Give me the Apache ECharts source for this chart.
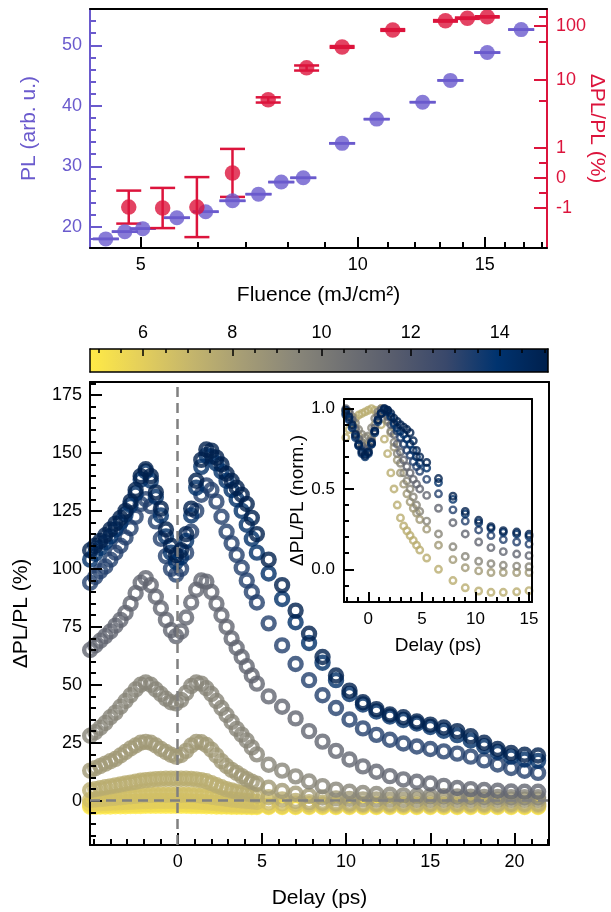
<!DOCTYPE html>
<html>
<head>
<meta charset="utf-8">
<title>PL vs fluence and delay traces</title>
<script src="https://cdn.jsdelivr.net/npm/echarts@6.0.0/dist/echarts.min.js"></script>
<style>
html, body { margin:0; padding:0; background:#ffffff; }
#chart { width:611px; height:912px; }
</style>
</head>
<body>
<div id="chart"></div>
<script>
// ===================== DATA =====================
// Top panel: PL vs fluence (left axis)
const plFluence = [4.47, 4.75, 5.03, 5.61, 6.15, 6.70, 7.28, 7.83, 8.40, 9.51, 10.62, 12.30, 13.44, 15.12, 16.85];
const plValues  = [18.0, 19.2, 19.7, 21.5, 22.5, 24.3, 25.4, 27.4, 28.1, 33.8, 37.8, 40.6, 44.2, 48.8, 52.6];
const plErr     = [0.02, 0.02, 0.02, 0.02, 0.02, 0.02, 0.02, 0.02, 0.02, 0.02, 0.02, 0.02, 0.02, 0.02, 0.02];
// Top panel: ΔPL/PL vs fluence (right axis)
const dplFluence = [4.81, 5.36, 5.98, 6.70, 7.51, 8.49, 9.51, 11.18, 13.23, 14.19, 15.12];
const dplValues  = [-0.97, -1.0, -0.97, 0.17, 5.1, 16.7, 40.8, 84, 124, 139, 147];
const dplErr     = [0.55, 0.67, 1.0, 0.8, 0.45, 1.8, 1.5, 3, 4, 4, 4];

// Tick labels
const fluenceTickLabels = [5, 10, 15];
const fluenceMinorTicks = [5, 6, 7, 8, 9, 10, 11, 12, 13, 14, 15, 16, 17, 18];
const plTickLabels = [20, 30, 40, 50];
const plMinorTicks = [18, 20, 22, 24, 26, 28, 30, 32, 34, 36, 38, 40, 42, 44, 46, 48, 50, 52, 54];
const dplTickLabels = [-1, 0, 1, 10, 100];
const dplMinorTicks = [-0.5, 0.5, 5, 50, 150];
const colorbarTickLabels = [6, 8, 10, 12, 14];
const colorbarMinorTicks = [5, 5.5, 6, 6.5, 7, 7.5, 8, 8.5, 9, 9.5, 10, 10.5, 11, 11.5, 12, 12.5, 13, 13.5, 14, 14.5, 15];
const delayTickLabels = [0, 5, 10, 15, 20];
const delayMinorTicks = [-5,-4,-3,-2,-1,0,1,2,3,4,5,6,7,8,9,10,11,12,13,14,15,16,17,18,19,20,21,22];
const mainYTickLabels = [0, 25, 50, 75, 100, 125, 150, 175];
const mainYMinorTicks = [-15,-10,-5,0,5,10,15,20,25,30,35,40,45,50,55,60,65,70,75,80,85,90,95,100,105,110,115,120,125,130,135,140,145,150,155,160,165,170,175,180];
const insetXTickLabels = [0, 5, 10, 15];
const insetXMinorTicks = [-2,-1,0,1,2,3,4,5,6,7,8,9,10,11,12,13,14,15];
const insetYTickLabels = [0, 0.5, 1.0];
const insetYMinorTicks = [-0.2,-0.1,0,0.1,0.2,0.3,0.4,0.5,0.6,0.7,0.8,0.9,1.0];

// Main panel: ΔPL/PL (%) vs delay (ps), one trace per fluence
const delays = [-5.2,-4.9,-4.6,-4.3,-4.0,-3.7,-3.4,-3.1,-2.8,-2.5,-2.2,-1.9,-1.6,-1.3,-1.0,-0.7,-0.4,-0.1,0.2,0.5,0.8,1.1,1.4,1.7,2.0,2.3,2.6,2.9,3.2,3.5,3.8,4.1,4.4,4.7,5.4,6.2,7.0,7.8,8.6,9.4,10.2,11.0,11.8,12.6,13.4,14.2,15.0,15.8,16.6,17.4,18.2,19.0,19.8,20.6,21.4];
const trace1512 = [108,110,112,114.5,117, 119.5,122,125,129,134, 140,143,140,133,126, 117,110,106,108,115, 126,138,147,151.5,151, 148,145,141,138,135, 132,128,122,115, 104,93,82,72,62, 54,47.5,42.5,39.5,37.2, 36,34.2,32.8,31.6,30, 27.8,25,22.3,20.6,19.8, 19.5];
const trace1419 = [104,106.5,109,111.5,114, 117,120,123.5,127.5,132.5, 138.5,142,138,131,123, 114,107,103,105,112, 123,135,144,149,148.5, 145.5,142,138,134,130, 125,119,113,107, 98,87,77,68,59.5, 52,46,41.5,38.5,36.3, 34.8,33.3,31.8,30.2,28.3, 26,23.5,21,19,17.8, 17.2];
const trace1323 = [94,96.5,99,101,104, 107,110,113.5,117.5,122.5, 128,130,127,120.5,113, 105.5,100,97.5,100,107, 116,125,132,136,134, 129,122.5,116,111,106, 100.5,95,90,85.5, 76.5,67,59,52,45.5, 40,35,31.2,28.4,26.3, 24.7,23.4,22.3,21.3,20.3, 19,17.4,15.6,14.1,12.9, 12];
const trace1118 = [65,67,69,71,73, 75.5,78,81,85,89.5, 94,96,93,88,83, 78,73.5,71,73,79, 85.5,91,95,94.5,90, 85,80,75,70,66, 62,58,54,50.5, 45,40.5,35.5,30,25.5, 21.5,17.8,14.8,12.5,10.6, 9.2,8.2,7.4,6.4,5.5, 5,4.6,4.3,4,3.9, 3.9];
const trace951 = [28,29.5,31.5,33.5,36, 38,40.5,43,45.5,48, 50,51,50,48,46, 44,42.5,42,43.5,46.5, 49.5,51,50.5,48.5,46, 43,40,37,34,31, 28.5,26,23,20, 15.5,13,10.5,8.3,6.3, 4.8,3.9,3.3,2.9,2.6, 2.3,2.1,2,1.9,1.8, 1.7,1.6,1.6,1.5,1.5, 1.5];
const trace849 = [13,14,15,16,17, 18,19.5,21,22.5,23.8, 25,25.4,25,23.8,22.3, 21,19.8,19,19.7,21.5, 23.8,25.3,25.2,24,22, 19.5,17,15,13.3,12, 10.6,9.3,8.2,7.3, 5.6,4.2,3,2.1,1.4, 1,0.8,0.6,0.5,0.5, 0.4,0.4,0.4,0.4,0.4, 0.4,0.4,0.4,0.4,0.4, 0.4];
const trace751 = [4.5,5,5.4,5.8,6.2, 6.6,7,7.4,7.8,8.2, 8.6,8.9,9.1,9.3,9.4, 9.5,9.5,9.5,9.5,9.5, 9.4,9.2,8.9,8.4,7.6, 6.7,5.8,5,4.4,3.9, 3.5,3.1,2.7,2.3, 1.5,0.6,-0.1,-0.6,-0.9, -1.1,-1.2,-1.3,-1.3,-1.3, -1.3,-1.3,-1.3,-1.3,-1.3, -1.3,-1.3,-1.3,-1.3,-1.3, -1.3];
const trace670 = [0.3,0.5,0.7,0.9,1.1, 1.3,1.5,1.7,1.9,2.1, 2.3,2.4,2.5,2.6,2.6, 2.6,2.6,2.6,2.6,2.6, 2.5,2.4,2.2,2,1.7, 1.4,1.1,0.8,0.5,0.3, 0.1,-0.1,-0.3,-0.5, -0.8,-1.1,-1.3,-1.5,-1.6, -1.7,-1.8,-1.8,-1.8,-1.8, -1.8,-1.8,-1.8,-1.8,-1.8, -1.8,-1.8,-1.8,-1.8,-1.8, -1.8];
const trace598 = [-1.3,-1.2,-1.1,-1,-0.9, -0.8,-0.7,-0.6,-0.5,-0.4, -0.3,-0.2,-0.2,-0.1,-0.1, -0.1,-0.1,-0.1,-0.1,-0.2, -0.3,-0.4,-0.5,-0.7,-0.9, -1.1,-1.3,-1.5,-1.6,-1.7, -1.8,-1.9,-2,-2, -2.1,-2.2,-2.2,-2.2,-2.2, -2.2,-2.2,-2.2,-2.2,-2.2, -2.2,-2.2,-2.2,-2.2,-2.2, -2.2,-2.2,-2.2,-2.2,-2.2, -2.2];
const trace536 = [-2,-2,-1.9,-1.9,-1.8, -1.8,-1.7,-1.7,-1.6,-1.6, -1.5,-1.5,-1.5,-1.4,-1.4, -1.4,-1.4,-1.4,-1.4,-1.5, -1.5,-1.6,-1.7,-1.8,-1.9, -2,-2.1,-2.2,-2.2,-2.3, -2.3,-2.4,-2.4,-2.4, -2.5,-2.5,-2.5,-2.5,-2.5, -2.5,-2.5,-2.5,-2.5,-2.5, -2.5,-2.5,-2.5,-2.5,-2.5, -2.5,-2.5,-2.5,-2.5,-2.5, -2.5];
const trace481 = [-2.6,-2.6,-2.5,-2.5,-2.5, -2.4,-2.4,-2.4,-2.3,-2.3, -2.3,-2.2,-2.2,-2.2,-2.2, -2.2,-2.2,-2.2,-2.2,-2.2, -2.3,-2.3,-2.3,-2.4,-2.4, -2.5,-2.5,-2.5,-2.6,-2.6, -2.6,-2.6,-2.7,-2.7, -2.7,-2.7,-2.7,-2.7,-2.7, -2.7,-2.7,-2.7,-2.7,-2.7, -2.7,-2.7,-2.7,-2.7,-2.7, -2.7,-2.7,-2.7,-2.7,-2.7, -2.7];

// Inset: normalised ΔPL/PL vs delay
const insetDelays = [-2.1,-1.8,-1.5,-1.2,-0.9,-0.6,-0.3,0,0.3,0.6,0.9,1.2,1.5,1.8,2.1,2.4,2.7,3.0,3.3,3.6,3.9,4.2,4.5,4.8,5.45,6.55,7.9,9.05,10.3,11.45,12.6,13.85,15.0];
const norm1512 = [0.99,0.95,0.9,0.84,0.78, 0.73,0.71,0.73,0.79,0.86, 0.93,0.97,1.0,0.99,0.97, 0.94,0.92,0.9,0.885,0.87, 0.85,0.8,0.74,0.7, 0.665,0.565,0.455,0.36,0.305, 0.265,0.24,0.232,0.218];
const norm1419 = [0.97,0.93,0.88,0.82,0.77, 0.72,0.7,0.72,0.78,0.85, 0.92,0.97,0.99,0.98,0.95, 0.91,0.88,0.86,0.84,0.81, 0.78,0.74,0.7,0.66, 0.63,0.54,0.435,0.345,0.29, 0.255,0.23,0.22,0.205];
const norm1323 = [0.96,0.94,0.89,0.83,0.77, 0.74,0.72,0.73,0.78,0.86, 0.93,0.97,1.0,0.99,0.95, 0.9,0.86,0.82,0.78,0.74, 0.71,0.67,0.64,0.61, 0.56,0.47,0.37,0.3,0.245, 0.21,0.185,0.17,0.157];
const norm1118 = [1.0,0.98,0.93,0.87,0.81, 0.77,0.75,0.75,0.8,0.88, 0.95,0.99,0.99,0.95,0.9, 0.84,0.78,0.73,0.68,0.64, 0.6,0.56,0.53,0.5, 0.46,0.38,0.29,0.22,0.17, 0.135,0.11,0.095,0.085];
const norm951 = [0.99,0.98,0.95,0.91,0.87, 0.84,0.82,0.83,0.88,0.94, 0.98,1.0,0.97,0.92,0.86, 0.79,0.72,0.66,0.6,0.55, 0.5,0.45,0.4,0.36, 0.3,0.22,0.14,0.08,0.05, 0.035,0.025,0.02,0.016];
const norm849 = [0.98,0.97,0.93,0.88,0.83, 0.79,0.77,0.77,0.82,0.9, 0.96,1.0,0.98,0.93,0.85, 0.76,0.68,0.6,0.53,0.47, 0.42,0.38,0.35,0.31, 0.25,0.15,0.06,0.01,-0.01, -0.02,-0.02,-0.02,-0.02];
const norm751 = [0.82,0.87,0.91,0.94,0.96, 0.97,0.98,0.99,1.0,0.99, 0.96,0.9,0.81,0.72,0.6, 0.5,0.4,0.32,0.27,0.24, 0.21,0.18,0.15,0.12, 0.07,0.0,-0.07,-0.115,-0.135, -0.143,-0.143,-0.14,-0.133];

// draw order: low fluence first (high fluence on top)
const mainTraces = [[4.81, trace481], [5.36, trace536], [5.98, trace598], [6.70, trace670], [7.51, trace751], [8.49, trace849], [9.51, trace951], [11.18, trace1118], [13.23, trace1323], [14.19, trace1419], [15.12, trace1512]];
const insetTraces = [[7.51, norm751], [8.49, norm849], [9.51, norm951], [11.18, norm1118], [13.23, norm1323], [14.19, norm1419], [15.12, norm1512]];

// ===================== STYLE / SCALES =====================
const FONT = 'Liberation Sans';
const BLACK = '#000000';
const PURPLE = '#6A5ACD';
const RED = '#DC143C';
const CB_MIN = 4.81, CB_MAX = 15.08;
const CIVIDIS = ['#00204D','#00336F','#39486B','#575C6D','#707173','#8A8779','#A69D75','#C4B56C','#E4CF5B','#FFEA46'];

function hexToRgb(h) { return [parseInt(h.slice(1,3),16), parseInt(h.slice(3,5),16), parseInt(h.slice(5,7),16)]; }
function fluenceColor(f) {
  let p = (CB_MAX - f) / (CB_MAX - CB_MIN) * (CIVIDIS.length - 1);
  p = Math.max(0, Math.min(CIVIDIS.length - 1, p));
  const i = Math.min(Math.floor(p), CIVIDIS.length - 2);
  const t = p - i;
  const a = hexToRgb(CIVIDIS[i]), b = hexToRgb(CIVIDIS[i + 1]);
  return 'rgb(' + a.map((v, k) => Math.round(v + (b[k] - v) * t)).join(',') + ')';
}
// right axis of the top panel: linear between -1 and 1, logarithmic above
function dplAxisPos(v) {
  if (v <= 1) return v;
  const L = Math.log10(v);
  if (v <= 10) return 1 + 2.27 * L;
  return 3.27 + 1.8 * (L - 1);
}
function dplAxisLabel(pos) {
  let best = dplTickLabels[0], bd = Infinity;
  dplTickLabels.forEach(v => { const d = Math.abs(dplAxisPos(v) - pos); if (d < bd) { bd = d; best = v; } });
  return String(best);
}

function ax(o) {
  return Object.assign({
    type: 'value', silent: true, z: 5,
    splitLine: { show: false },
    axisLine: { show: false, onZero: false },
    axisTick: { show: false },
    axisLabel: { show: false }
  }, o);
}
function lineStyle(color, width) { return { show: true, onZero: false, lineStyle: { color: color, width: width } }; }
function ticks(values, len, color, width) { return { show: true, inside: true, length: len, customValues: values, lineStyle: { color: color, width: width || 2 } }; }
function labels(values, color, size, margin, fmt) {
  const o = { show: true, customValues: values, color: color, fontSize: size, fontFamily: FONT, margin: margin };
  if (fmt) o.formatter = fmt;
  return o;
}
function nameStyle(color, size) { return { color: color, fontSize: size, fontFamily: FONT }; }

function errorBarSeries(xIdx, yIdx, data, color, capHalf) {
  return {
    type: 'custom', xAxisIndex: xIdx, yAxisIndex: yIdx, silent: true, z: 2,
    encode: { x: 0, y: [1, 2] },
    data: data,
    renderItem: function (params, api) {
      const lo = api.coord([api.value(0), api.value(1)]);
      const hi = api.coord([api.value(0), api.value(2)]);
      const st = { stroke: color, lineWidth: 2.5 };
      return { type: 'group', children: [
        { type: 'line', shape: { x1: lo[0], y1: lo[1], x2: hi[0], y2: hi[1] }, style: st },
        { type: 'line', shape: { x1: lo[0] - capHalf, y1: lo[1], x2: lo[0] + capHalf, y2: lo[1] }, style: st },
        { type: 'line', shape: { x1: hi[0] - capHalf, y1: hi[1], x2: hi[0] + capHalf, y2: hi[1] }, style: st }
      ]};
    }
  };
}

// ===================== SERIES =====================
const series = [];
// top panel
series.push(errorBarSeries(0, 0, plFluence.map((f, i) => [f, plValues[i] - plErr[i], plValues[i] + plErr[i]]), PURPLE, 13));
series.push({ type: 'scatter', xAxisIndex: 0, yAxisIndex: 0, symbol: 'circle', symbolSize: 15, silent: true, z: 3,
  itemStyle: { color: PURPLE }, data: plFluence.map((f, i) => [f, plValues[i]]) });
series.push(errorBarSeries(0, 2, dplFluence.map((f, i) => [f, dplAxisPos(dplValues[i] - dplErr[i]), dplAxisPos(dplValues[i] + dplErr[i])]), RED, 12.5));
series.push({ type: 'scatter', xAxisIndex: 0, yAxisIndex: 2, symbol: 'circle', symbolSize: 15.5, silent: true, z: 4,
  itemStyle: { color: RED }, data: dplFluence.map((f, i) => [f, dplAxisPos(dplValues[i])]) });

// colorbar
const cbStops = CIVIDIS.map((c, i) => ({ offset: i / (CIVIDIS.length - 1), color: CIVIDIS[CIVIDIS.length - 1 - i] }));
series.push({ type: 'custom', xAxisIndex: 3, yAxisIndex: 4, silent: true, z: 1,
  data: [[CB_MIN, CB_MAX]], encode: { x: [0, 1] },
  renderItem: function (params, api) {
    const a = api.coord([api.value(0), 0]);
    const b = api.coord([api.value(1), 1]);
    return { type: 'rect', shape: { x: a[0], y: b[1], width: b[0] - a[0], height: a[1] - b[1] },
      style: { fill: { type: 'linear', x: 0, y: 0, x2: 1, y2: 0, colorStops: cbStops } } };
  }
});

// main traces
mainTraces.forEach(([f, vals], k) => {
  const s = { type: 'scatter', xAxisIndex: 6, yAxisIndex: 6, symbol: 'circle', symbolSize: 12, silent: true, z: 2,
    itemStyle: { color: 'rgba(0,0,0,0)', borderColor: fluenceColor(f), borderWidth: 4.4 },
    data: delays.map((d, i) => [d, vals[i]]) };
  if (k === mainTraces.length - 1) {
    s.markLine = { silent: true, symbol: ['none', 'none'], label: { show: false }, z: 10,
      lineStyle: { type: [10, 6], color: '#808080', width: 2.5 },
      data: [{ xAxis: 0 }, { yAxis: 0 }] };
  }
  series.push(s);
});
// inset traces
insetTraces.forEach(([f, vals]) => {
  series.push({ type: 'scatter', xAxisIndex: 9, yAxisIndex: 9, symbol: 'circle', symbolSize: 6.5, silent: true, z: 2,
    itemStyle: { color: 'rgba(0,0,0,0)', borderColor: fluenceColor(f), borderWidth: 2.4 },
    data: insetDelays.map((d, i) => [d, vals[i]]) });
});

// ===================== OPTION =====================
const option = {
  animation: false,
  backgroundColor: '#ffffff',
  grid: [
    { left: 90, top: 9, width: 457, height: 239, outerBoundsMode: 'none' },
    { left: 90, top: 349, width: 458, height: 23, outerBoundsMode: 'none' },
    { left: 90, top: 382, width: 459, height: 463, outerBoundsMode: 'none' },
    { left: 344, top: 399, width: 188, height: 203, outerBoundsMode: 'none' }
  ],
  graphic: [
    { type: 'text', x: 597, y: 128.5, rotation: -Math.PI / 2, silent: true, z: 20,
      style: { text: 'ΔPL/PL (%)', fill: RED, font: '21px "Liberation Sans"', align: 'center', verticalAlign: 'middle' } }
  ],
  xAxis: [
    ax({ type: 'log', logBase: 10, gridIndex: 0, position: 'bottom', min: 4.25, max: 18.3,
      axisLine: lineStyle(BLACK, 2), axisTick: ticks(fluenceTickLabels, 11, BLACK),
      axisLabel: labels(fluenceTickLabels, BLACK, 18, 8, v => String(v)),
      name: 'Fluence (mJ/cm²)', nameLocation: 'middle', nameGap: 37, nameTextStyle: nameStyle(BLACK, 21) }),
    ax({ type: 'log', logBase: 10, gridIndex: 0, position: 'bottom', min: 4.25, max: 18.3,
      axisTick: ticks(fluenceMinorTicks, 6, BLACK) }),
    ax({ type: 'log', logBase: 10, gridIndex: 0, position: 'top', min: 4.25, max: 18.3,
      axisLine: lineStyle(BLACK, 2) }),
    ax({ gridIndex: 1, position: 'top', min: CB_MIN, max: CB_MAX,
      axisLine: lineStyle(BLACK, 1.5), axisTick: ticks(colorbarTickLabels, 7, BLACK, 1.5),
      axisLabel: labels(colorbarTickLabels, BLACK, 18, 7, v => String(v)) }),
    ax({ gridIndex: 1, position: 'top', min: CB_MIN, max: CB_MAX,
      axisTick: ticks(colorbarMinorTicks, 4, BLACK, 1.5) }),
    ax({ gridIndex: 1, position: 'bottom', min: CB_MIN, max: CB_MAX, axisLine: lineStyle(BLACK, 1.5) }),
    ax({ gridIndex: 2, position: 'bottom', min: -5.21, max: 22.05,
      axisLine: lineStyle(BLACK, 2), axisTick: ticks(delayTickLabels, 12, BLACK),
      axisLabel: labels(delayTickLabels, BLACK, 18, 8, v => String(v)),
      name: 'Delay (ps)', nameLocation: 'middle', nameGap: 43, nameTextStyle: nameStyle(BLACK, 21) }),
    ax({ gridIndex: 2, position: 'bottom', min: -5.21, max: 22.05, axisTick: ticks(delayMinorTicks, 6, BLACK) }),
    ax({ gridIndex: 2, position: 'top', min: -5.21, max: 22.05, axisLine: lineStyle(BLACK, 2) }),
    ax({ gridIndex: 3, position: 'bottom', min: -2.27, max: 15.28,
      axisLine: lineStyle(BLACK, 2), axisTick: ticks(insetXTickLabels, 10, BLACK),
      axisLabel: labels(insetXTickLabels, BLACK, 17, 9, v => String(v)),
      name: 'Delay (ps)', nameLocation: 'middle', nameGap: 34, nameTextStyle: nameStyle(BLACK, 19) }),
    ax({ gridIndex: 3, position: 'bottom', min: -2.27, max: 15.28, axisTick: ticks(insetXMinorTicks, 5, BLACK) }),
    ax({ gridIndex: 3, position: 'top', min: -2.27, max: 15.28, axisLine: lineStyle(BLACK, 2) })
  ],
  yAxis: [
    ax({ gridIndex: 0, position: 'left', min: 16.5, max: 56,
      axisLine: lineStyle(PURPLE, 2), axisTick: ticks(plTickLabels, 12, PURPLE),
      axisLabel: labels(plTickLabels, PURPLE, 18, 8, v => String(v)),
      name: 'PL (arb. u.)', nameLocation: 'middle', nameGap: 50, nameTextStyle: nameStyle(PURPLE, 21) }),
    ax({ gridIndex: 0, position: 'left', min: 16.5, max: 56, axisTick: ticks(plMinorTicks, 6, PURPLE) }),
    ax({ gridIndex: 0, position: 'right', min: -2.333, max: 5.633,
      axisLine: lineStyle(RED, 2), axisTick: ticks(dplTickLabels.map(dplAxisPos), 13, RED),
      axisLabel: labels(dplTickLabels.map(dplAxisPos), RED, 18, 9, dplAxisLabel) }),
    ax({ gridIndex: 0, position: 'right', min: -2.333, max: 5.633, axisTick: ticks(dplMinorTicks.map(dplAxisPos), 8, RED) }),
    ax({ gridIndex: 1, position: 'left', min: 0, max: 1, axisLine: lineStyle(BLACK, 1.5) }),
    ax({ gridIndex: 1, position: 'right', min: 0, max: 1, axisLine: lineStyle(BLACK, 1.5) }),
    ax({ gridIndex: 2, position: 'left', min: -19.1, max: 180.6,
      axisLine: lineStyle(BLACK, 2), axisTick: ticks(mainYTickLabels, 12, BLACK),
      axisLabel: labels(mainYTickLabels, BLACK, 18, 8, v => String(v)),
      name: 'ΔPL/PL (%)', nameLocation: 'middle', nameGap: 58, nameTextStyle: nameStyle(BLACK, 21) }),
    ax({ gridIndex: 2, position: 'left', min: -19.1, max: 180.6, axisTick: ticks(mainYMinorTicks, 6, BLACK) }),
    ax({ gridIndex: 2, position: 'right', min: -19.1, max: 180.6, axisLine: lineStyle(BLACK, 2) }),
    ax({ gridIndex: 3, position: 'left', min: -0.2035, max: 1.06,
      axisLine: lineStyle(BLACK, 2), axisTick: ticks(insetYTickLabels, 10, BLACK),
      axisLabel: labels(insetYTickLabels, BLACK, 17, 9, v => Number(v).toFixed(1)),
      name: 'ΔPL/PL (norm.)', nameLocation: 'middle', nameGap: 35, nameTextStyle: nameStyle(BLACK, 19) }),
    ax({ gridIndex: 3, position: 'left', min: -0.2035, max: 1.06, axisTick: ticks(insetYMinorTicks, 5, BLACK) }),
    ax({ gridIndex: 3, position: 'right', min: -0.2035, max: 1.06, axisLine: lineStyle(BLACK, 2) })
  ],
  series: series
};

const chart = echarts.init(document.getElementById('chart'), null, { renderer: 'canvas', width: 611, height: 912 });
chart.setOption(option);
</script>
</body>
</html>
